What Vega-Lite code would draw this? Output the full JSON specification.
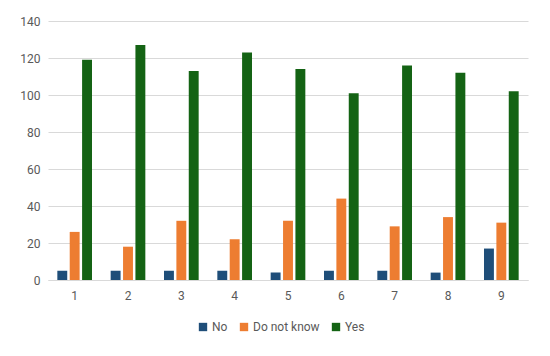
{
  "$schema": "https://vega.github.io/schema/vega-lite/v6.json",
  "width": 480,
  "height": 259,
  "autosize": {"type": "none"},
  "padding": {"left": 48, "top": 21, "right": 22, "bottom": 76},
  "background": "white",
  "config": {
    "view": {"stroke": null},
    "font": "Roboto",
    "axis": {"labelColor": "#595959", "labelFontSize": 12, "titleColor": "#595959"},
    "legend": {"labelColor": "#595959", "labelFontSize": 12}
  },
  "data": {
    "values": [
      {"cat": "1", "series": "No", "value": 5},
      {"cat": "1", "series": "Do not know", "value": 26},
      {"cat": "1", "series": "Yes", "value": 119},
      {"cat": "2", "series": "No", "value": 5},
      {"cat": "2", "series": "Do not know", "value": 18},
      {"cat": "2", "series": "Yes", "value": 127},
      {"cat": "3", "series": "No", "value": 5},
      {"cat": "3", "series": "Do not know", "value": 32},
      {"cat": "3", "series": "Yes", "value": 113},
      {"cat": "4", "series": "No", "value": 5},
      {"cat": "4", "series": "Do not know", "value": 22},
      {"cat": "4", "series": "Yes", "value": 123},
      {"cat": "5", "series": "No", "value": 4},
      {"cat": "5", "series": "Do not know", "value": 32},
      {"cat": "5", "series": "Yes", "value": 114},
      {"cat": "6", "series": "No", "value": 5},
      {"cat": "6", "series": "Do not know", "value": 44},
      {"cat": "6", "series": "Yes", "value": 101},
      {"cat": "7", "series": "No", "value": 5},
      {"cat": "7", "series": "Do not know", "value": 29},
      {"cat": "7", "series": "Yes", "value": 116},
      {"cat": "8", "series": "No", "value": 4},
      {"cat": "8", "series": "Do not know", "value": 34},
      {"cat": "8", "series": "Yes", "value": 112},
      {"cat": "9", "series": "No", "value": 17},
      {"cat": "9", "series": "Do not know", "value": 31},
      {"cat": "9", "series": "Yes", "value": 102}
    ]
  },
  "mark": {"type": "bar"},
  "encoding": {
    "x": {
      "field": "cat",
      "type": "nominal",
      "scale": {"paddingInner": 0.35, "paddingOuter": 0.175},
      "axis": {"title": null, "labelAngle": 0, "ticks": false, "domainColor": "#d9d9d9", "domainWidth": 1, "labelPadding": 10}
    },
    "xOffset": {
      "field": "series",
      "type": "nominal",
      "sort": ["No", "Do not know", "Yes"],
      "scale": {"paddingInner": 0.2}
    },
    "y": {
      "field": "value",
      "type": "quantitative",
      "scale": {"domain": [0, 140]},
      "axis": {"title": null, "values": [0, 20, 40, 60, 80, 100, 120, 140], "domain": false, "ticks": false, "gridColor": "#d9d9d9", "labelPadding": 8}
    },
    "color": {
      "field": "series",
      "type": "nominal",
      "sort": ["No", "Do not know", "Yes"],
      "scale": {"domain": ["No", "Do not know", "Yes"], "range": ["#1f4e79", "#ed7d31", "#146314"]},
      "legend": {
        "title": null,
        "orient": "none",
        "legendX": 149,
        "legendY": 300,
        "direction": "horizontal",
        "symbolType": "square",
        "symbolSize": 70,
        "symbolStrokeWidth": 0,
        "labelOffset": 3,
        "columnPadding": 10
      }
    }
  }
}
